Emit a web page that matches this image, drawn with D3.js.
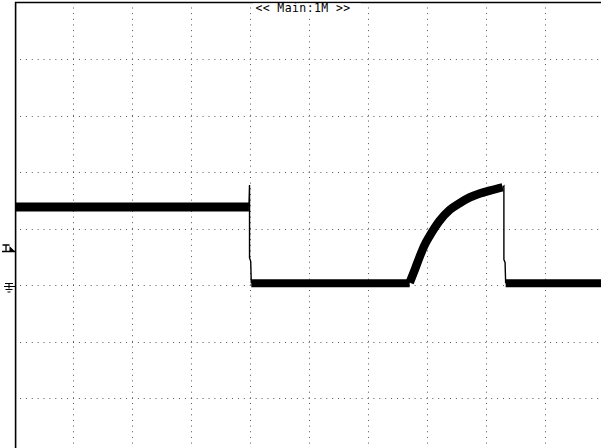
<!DOCTYPE html>
<html>
<head>
<meta charset="utf-8">
<script src="https://cdn.jsdelivr.net/npm/d3@7"></script>
<style>
  html, body { margin: 0; padding: 0; background: #fff; overflow: hidden; }
  svg { display: block; }
</style>
</head>
<body>
<svg id="scope" width="601" height="448"></svg>
<script>
// screen is 10 x 8 divisions, ground marker at 0 div
const gridX = [1, 2, 3, 4, 5, 6, 7, 8, 9];
const gridY = [4, 3, 2, 1, 0, -1, -2];

// noisy (thick) parts of the trace, in divisions
const highT = [0.02, 3.98];
const highV = [1.38, 1.38];
const lowT = [4.02, 6.71];
const lowV = [0.03, 0.03];
const riseT = [6.71, 6.80, 6.88, 6.96, 7.05, 7.22, 7.39, 7.56, 7.73, 7.90, 8.07, 8.29];
const riseV = [0.04, 0.28, 0.50, 0.70, 0.87, 1.14, 1.33, 1.45, 1.55, 1.62, 1.67, 1.73];
const low2T = [8.34, 9.99];
const low2V = [0.03, 0.03];

// thin edges
const fallT = [3.98, 3.99, 3.99, 4.01, 4.02];
const fallV = [1.38, 1.77, 0.48, 0.42, 0.03];
const dropT = [8.29, 8.31, 8.31, 8.33, 8.34];
const dropV = [1.73, 1.75, 0.45, 0.40, 0.03];

const title = "<< Main:1M >>";

const svg = d3.select('#scope');
const x = d3.scaleLinear().domain([0, 10]).range([14.6, 603.4]);
const y = d3.scaleLinear().domain([-3, 5]).range([454.5, 2.5]);

// dotted graticule
svg.append('g').selectAll('line')
  .data(gridX)
  .join('line')
  .attr('x1', d => Math.round(x(d)) + 0.5)
  .attr('x2', d => Math.round(x(d)) + 0.5)
  .attr('y1', y(5) + 5)
  .attr('y2', y(-3))
  .attr('stroke', '#555')
  .attr('stroke-width', 1)
  .attr('stroke-dasharray', '1 4.65');

svg.append('g').selectAll('line')
  .data(gridY)
  .join('line')
  .attr('y1', d => Math.round(y(d)) + 0.5)
  .attr('y2', d => Math.round(y(d)) + 0.5)
  .attr('x1', x(0) + 5.4)
  .attr('x2', x(10))
  .attr('stroke', '#555')
  .attr('stroke-width', 1)
  .attr('stroke-dasharray', '1 4.89');

// frame (right and bottom edges are off screen)
svg.append('path')
  .attr('d', `M${x(0) + 1},${y(-3)} V${y(5)} H${x(10)}`)
  .attr('fill', 'none')
  .attr('stroke', '#000')
  .attr('stroke-width', 1.6);

// title box
svg.append('rect')
  .attr('x', 253).attr('y', 3.5)
  .attr('width', 108).attr('height', 12)
  .attr('fill', '#fff');
svg.append('text')
  .attr('x', (x(0) + x(10)) / 2 - 6)
  .attr('y', 11.5)
  .attr('text-anchor', 'middle')
  .attr('font-family', 'DejaVu Sans Mono, monospace')
  .attr('font-size', 11.5)
  .attr('letter-spacing', 0.4)
  .attr('fill', '#000')
  .text(title);

const line = d3.line().x(d => x(d[0])).y(d => y(d[1]));
const curve = d3.line().x(d => x(d[0])).y(d => y(d[1])).curve(d3.curveMonotoneX);
const pts = (t, v) => t.map((d, i) => [d, v[i]]);

// thin edges
[[fallT, fallV], [dropT, dropV]].forEach(([t, v]) => {
  svg.append('path')
    .attr('d', line(pts(t, v)))
    .attr('fill', 'none')
    .attr('stroke', '#000')
    .attr('stroke-width', 1.4);
});

// thick noisy band
[[highT, highV, 9], [lowT, lowV, 8], [low2T, low2V, 8]].forEach(([t, v, w]) => {
  svg.append('path')
    .attr('d', line(pts(t, v)))
    .attr('fill', 'none')
    .attr('stroke', '#000')
    .attr('stroke-width', w);
});
svg.append('path')
  .attr('d', curve(pts(riseT, riseV)))
  .attr('fill', 'none')
  .attr('stroke', '#000')
  .attr('stroke-width', 8.5)
  .attr('stroke-linejoin', 'round');

// trigger level marker
const ty = 251.5;
svg.append('path')
  .attr('d', `M2.5,${ty - 6.5} H9.5 M6,${ty - 6.5} V${ty} M2,${ty} H15`)
  .attr('fill', 'none')
  .attr('stroke', '#000')
  .attr('stroke-width', 1.3);
svg.append('path')
  .attr('d', `M9.5,${ty - 5.5} L15,${ty} L9.5,${ty} Z`)
  .attr('fill', '#000');

// ground marker
const gy = Math.round(y(0)) + 0.5;
svg.append('path')
  .attr('d', `M5,${gy - 2} H13 M9,${gy - 2} V${gy + 3} M4,${gy + 1} H15 M5.5,${gy + 4} H12.5 M7.5,${gy + 6.5} H10.5`)
  .attr('fill', 'none')
  .attr('stroke', '#000')
  .attr('stroke-width', 1.1);
</script>
</body>
</html>
